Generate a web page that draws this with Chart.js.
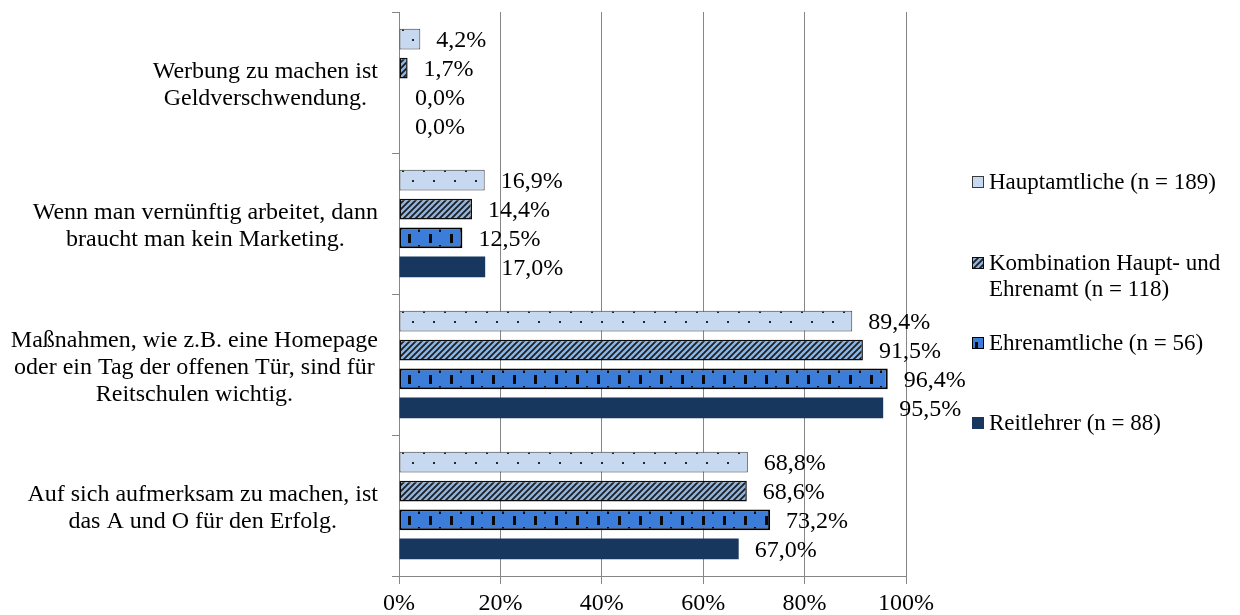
<!DOCTYPE html>
<html>
<head>
<meta charset="utf-8">
<script src="https://cdn.jsdelivr.net/npm/chart.js@4/dist/chart.umd.min.js"></script>
<style>
  html, body { margin: 0; padding: 0; background: #fff; }
  #wrap { width: 1240px; height: 615px; }
</style>
</head>
<body>
<div id="wrap"><canvas id="myChart" width="1240" height="615"></canvas></div>
<script>
// data
const categories = [
    ['Werbung zu machen ist', 'Geldverschwendung.'],
    ['Wenn man vernünftig arbeitet, dann', 'braucht man kein Marketing.'],
    ['Maßnahmen, wie z.B. eine Homepage', 'oder ein Tag der offenen Tür, sind für', 'Reitschulen wichtig.'],
    ['Auf sich aufmerksam zu machen, ist', 'das A und O für den Erfolg.']
];
const seriesNames = [
    ['Hauptamtliche (n = 189)'],
    ['Kombination Haupt- und', 'Ehrenamt (n = 118)'],
    ['Ehrenamtliche (n = 56)'],
    ['Reitlehrer (n = 88)']
];
const hauptamtliche = [4.2, 16.9, 89.4, 68.8];
const kombination = [1.7, 14.4, 91.5, 68.6];
const ehrenamtliche = [0.0, 12.5, 96.4, 73.2];
const reitlehrer = [0.0, 17.0, 95.5, 67.0];
const xTicks = [0, 20, 40, 60, 80, 100];

const FONT = "'Liberation Serif', 'Times New Roman', serif";
const GRID = '#868686';
const CAT_PCT = 0.82;
const BAR_PCT = 0.72;

// pattern tiles
const makeTile = (w, h, draw) => {
    const c = document.createElement('canvas');
    c.width = w; c.height = h;
    draw(c.getContext('2d'), w, h);
    return c;
};

const dotsTile = makeTile(21, 20, (g, w, h) => {
    g.fillStyle = '#C6D9F1';
    g.fillRect(0, 0, w, h);
    g.fillStyle = '#262626';
    g.fillRect(3, 0, 2, 2);
    g.fillRect(13, 10, 2, 2);
});

const stripeTile = makeTile(6, 6, (g, w, h) => {
    g.fillStyle = '#8DB4E2';
    g.fillRect(0, 0, w, h);
    g.strokeStyle = '#1e1e1e';
    g.lineWidth = 1.8;
    g.beginPath();
    g.moveTo(-1, 7); g.lineTo(7, -1);
    g.moveTo(-4, 4); g.lineTo(4, -4);
    g.moveTo(2, 10); g.lineTo(10, 2);
    g.stroke();
});

const dashTile = makeTile(21, 21, (g, w, h) => {
    g.fillStyle = '#3B7DD8';
    g.fillRect(0, 0, w, h);
    g.fillStyle = '#0a0a0a';
    g.fillRect(9, 6, 3, 9);
    g.fillRect(19, 0, 3, 4);
    g.fillRect(19, 17, 3, 4);
});

// pattern aligned with the bar it fills
const barPattern = (tile, fallback) => (ctx) => {
    const chart = ctx.chart;
    const y = chart.scales.y;
    if (!y || !chart.chartArea || ctx.dataIndex === undefined) return fallback;
    const catH = (y.bottom - y.top) / categories.length;
    const size = catH * CAT_PCT;
    const chunk = size / 4;
    const top = y.getPixelForValue(ctx.dataIndex) - size / 2 + chunk * ctx.datasetIndex + (chunk - chunk * BAR_PCT) / 2;
    const p = chart.ctx.createPattern(tile, 'repeat');
    p.setTransform(new DOMMatrix().translate(chart.chartArea.left, Math.round(top)));
    return p;
};

const seriesStyles = [
    { tile: dotsTile, fill: '#C6D9F1', border: '#3a3a3a', width: 1 },
    { tile: stripeTile, fill: '#8DB4E2', border: '#0d0d0d', width: 1.5 },
    { tile: dashTile, fill: '#3B7DD8', border: '#000000', width: 2 },
    { tile: null, fill: '#17375E', border: '#17375E', width: 0 }
];

const buildDataset = (label, data, style) => ({
    label: label.join(' '),
    data: data,
    backgroundColor: style.tile ? barPattern(style.tile, style.fill) : style.fill,
    borderColor: style.border,
    borderWidth: style.width,
    borderSkipped: false,
    categoryPercentage: CAT_PCT,
    barPercentage: BAR_PCT
});

// category labels: each block centred in itself, blocks right-aligned at the axis
const categoryLabels = {
    id: 'categoryLabels',
    afterDraw(chart) {
        const g = chart.ctx;
        const yScale = chart.scales.y;
        g.save();
        g.font = '24px ' + FONT;
        g.fillStyle = '#000';
        g.textAlign = 'center';
        g.textBaseline = 'middle';
        chart.data.labels.forEach((lines, i) => {
            const widest = Math.max(...lines.map(t => g.measureText(t).width));
            const cx = yScale.right - 21 - widest / 2;
            const cy = yScale.getPixelForValue(i) + 3;
            lines.forEach((t, k) => g.fillText(t, cx, cy + (k - (lines.length - 1) / 2) * 27));
        });
        g.restore();
    }
};

// value labels after each bar
const valueLabels = {
    id: 'valueLabels',
    afterDatasetsDraw(chart) {
        const g = chart.ctx;
        g.save();
        g.font = '24px ' + FONT;
        g.fillStyle = '#000';
        g.textAlign = 'left';
        g.textBaseline = 'middle';
        chart.data.datasets.forEach((ds, i) => {
            chart.getDatasetMeta(i).data.forEach((bar, j) => {
                const txt = ds.data[j].toFixed(1).replace('.', ',') + '%';
                g.fillText(txt, bar.x + 16, bar.y + 2);
            });
        });
        g.restore();
    }
};

// legend on the right
const sideLegend = {
    id: 'sideLegend',
    afterDraw(chart) {
        const g = chart.ctx;
        const rows = [182, 263, 343, 423];
        g.save();
        g.font = '23px ' + FONT;
        g.textBaseline = 'middle';
        seriesNames.forEach((lines, i) => {
            const st = seriesStyles[i];
            const y0 = rows[i];
            g.fillStyle = st.tile ? g.createPattern(st.tile, 'repeat') : st.fill;
            g.fillRect(972, y0 - 6, 12, 12);
            g.strokeStyle = i === 3 ? st.fill : st.border;
            g.lineWidth = 1;
            g.strokeRect(972.5, y0 - 5.5, 11, 11);
            g.fillStyle = '#000';
            lines.forEach((t, k) => g.fillText(t, 989, y0 + 1 + k * 26));
        });
        g.restore();
    }
};

const ctx = document.getElementById('myChart').getContext('2d');
const myChart = new Chart(ctx, {
    type: 'bar',
    data: {
        labels: categories,
        datasets: [
            buildDataset(seriesNames[0], hauptamtliche, seriesStyles[0]),
            buildDataset(seriesNames[1], kombination, seriesStyles[1]),
            buildDataset(seriesNames[2], ehrenamtliche, seriesStyles[2]),
            buildDataset(seriesNames[3], reitlehrer, seriesStyles[3])
        ]
    },
    options: {
        indexAxis: 'y',
        responsive: false,
        animation: false,
        devicePixelRatio: 1,
        events: [],
        layout: { padding: { left: 0, right: 334, top: 12, bottom: 0 } },
        plugins: {
            legend: { display: false },
            tooltip: { enabled: false }
        },
        scales: {
            x: {
                min: 0,
                max: 100,
                afterBuildTicks: (scale) => { scale.ticks = xTicks.map(v => ({ value: v })); },
                afterFit: (scale) => { scale.height = 39; },
                grid: { color: GRID, lineWidth: 1, tickLength: 8, drawTicks: true },
                border: { color: GRID, width: 1 },
                ticks: {
                    color: '#000',
                    padding: 5,
                    maxRotation: 0,
                    font: { family: FONT, size: 24 },
                    callback: (v) => v + '%'
                }
            },
            y: {
                afterFit: (scale) => {
                    scale.width = 399;
                    scale.paddingTop = 0;
                    scale.paddingBottom = 0;
                },
                grid: { drawOnChartArea: false, drawTicks: true, tickLength: 7, color: GRID, offset: true },
                border: { color: GRID, width: 1 },
                ticks: { display: false }
            }
        }
    },
    plugins: [valueLabels, categoryLabels, sideLegend]
});
</script>
</body>
</html>
